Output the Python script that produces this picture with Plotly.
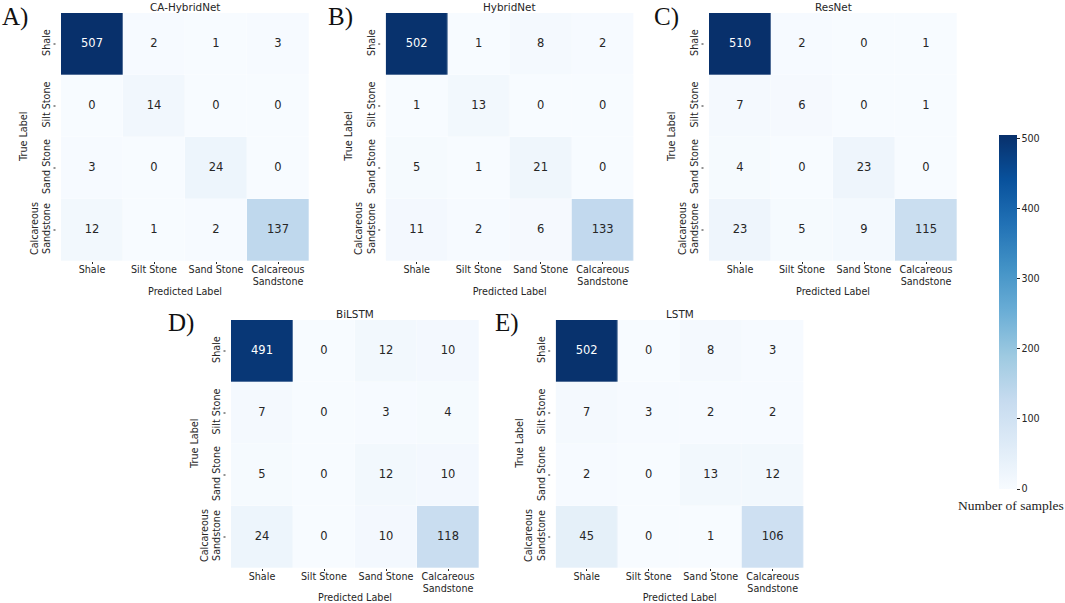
import plotly.graph_objects as go

W = 1065
H = 603

labels = ["Shale", "Silt Stone", "Sand Stone", "Calcareous<br>Sandstone"]

ca_hybridnet = [[507, 2, 1, 3], [0, 14, 0, 0], [3, 0, 24, 0], [12, 1, 2, 137]]
hybridnet = [[502, 1, 8, 2], [1, 13, 0, 0], [5, 1, 21, 0], [11, 2, 6, 133]]
resnet = [[510, 2, 0, 1], [7, 6, 0, 1], [4, 0, 23, 0], [23, 5, 9, 115]]
bilstm = [[491, 0, 12, 10], [7, 0, 3, 4], [5, 0, 12, 10], [24, 0, 10, 118]]
lstm = [[502, 0, 8, 3], [7, 3, 2, 2], [2, 0, 13, 12], [45, 0, 1, 106]]

names = ["CA-HybridNet", "HybridNet", "ResNet", "BiLSTM", "LSTM"]
matrices = [ca_hybridnet, hybridnet, resnet, bilstm, lstm]
letters = ["A)", "B)", "C)", "D)", "E)"]

# panel boxes in pixels: left, top
panel_pos = [(61, 13), (385.7, 13), (709, 13), (231, 320), (555.7, 320)]
panel_size = 248
letter_pos = [(2, 3), (328, 3), (654, 3), (168, 309), (495, 309)]

blues = ["#f7fbff", "#deebf7", "#c6dbef", "#9ecae1", "#6baed6",
         "#4292c6", "#2171b5", "#08519c", "#08306b"]
text_dark = "#262626"
sans = "DejaVu Sans"
serif = "Liberation Serif"

fig = go.Figure()
layout = {}
annotations = []
shapes = []

for i, (name, m) in enumerate(zip(names, matrices)):
    n = i + 1
    ax = "x" if i == 0 else f"x{n}"
    ay = "y" if i == 0 else f"y{n}"
    left, top = panel_pos[i]

    fig.add_trace(go.Heatmap(z=m, x=labels, y=labels, coloraxis="coloraxis",
                             xgap=0.3, ygap=0.3, xaxis=ax, yaxis=ay))

    xs, ys, txt, cols = [], [], [], []
    for r, row in enumerate(m):
        for c, v in enumerate(row):
            xs.append(labels[c])
            ys.append(labels[r])
            txt.append(str(v))
            cols.append("white" if v > 300 else text_dark)
    fig.add_trace(go.Scatter(x=xs, y=ys, text=txt, mode="text", showlegend=False,
                             textposition="middle center",
                             textfont=dict(family=sans, size=11.5, color=cols),
                             xaxis=ax, yaxis=ay))

    layout["xaxis" if i == 0 else f"xaxis{n}"] = dict(
        domain=[left / W, (left + panel_size) / W],
        anchor=ay, type="category", range=[-0.5, 3.5], side="bottom",
        automargin=False,
        showgrid=False, zeroline=False, showline=False,
        ticks="outside", ticklen=2, tickwidth=1, tickcolor=text_dark,
        ticklabelstandoff=-3,
        tickfont=dict(family=sans, size=9.6, color=text_dark), tickangle=0,
        title=dict(text="Predicted Label", standoff=2,
                   font=dict(family=sans, size=9.6, color=text_dark)),
    )
    layout["yaxis" if i == 0 else f"yaxis{n}"] = dict(
        domain=[1 - (top + panel_size) / H, 1 - top / H],
        anchor=ax, type="category", range=[3.5, -0.5],
        automargin=False,
        showgrid=False, zeroline=False, showline=False,
        ticks="", ticklabelstandoff=8,
        tickfont=dict(family=sans, size=9.6, color=text_dark), tickangle=-90,
    )

    # the y ticks sit detached from the heatmap in the original
    for lab in labels:
        shapes.append(dict(type="line", xref=f"{ax} domain", yref=ay,
                           x0=-7.5 / panel_size, x1=-5.5 / panel_size, y0=lab, y1=lab,
                           line=dict(color=text_dark, width=1)))

    annotations.append(dict(text="True Label", textangle=-90,
                            xref=f"{ax} domain", yref=f"{ay} domain",
                            x=0, y=0.5, xanchor="center", yanchor="middle",
                            xshift=-37, showarrow=False, borderpad=0,
                            font=dict(family=sans, size=9.6, color=text_dark)))
    annotations.append(dict(text=name, xref=f"{ax} domain", yref=f"{ay} domain",
                            x=0.5, y=1, xanchor="center", yanchor="bottom",
                            showarrow=False, yshift=-2,
                            font=dict(family=sans, size=10.4, color=text_dark)))
    lx, ly = letter_pos[i]
    annotations.append(dict(text=letters[i], xref="paper", yref="paper",
                            x=lx / W, y=1 - ly / H, xanchor="left", yanchor="top",
                            showarrow=False, borderpad=0, borderwidth=0,
                            font=dict(family=serif, size=25, color="#111111")))

annotations.append(dict(text="Number of samples", xref="paper", yref="paper",
                        x=1064.5 / W, y=1 - 505 / H, xanchor="right", yanchor="middle",
                        showarrow=False, borderpad=0,
                        font=dict(family=serif, size=13.5, color="#222222")))

fig.update_layout(
    width=W, height=H,
    margin=dict(l=0, r=0, t=0, b=0),
    paper_bgcolor="white", plot_bgcolor="white",
    showlegend=False,
    annotations=annotations,
    shapes=shapes,
    coloraxis=dict(
        cmin=0, cmax=505,
        colorscale=[[j / (len(blues) - 1), c] for j, c in enumerate(blues)],
        colorbar=dict(
            thicknessmode="pixels", thickness=18,
            lenmode="pixels", len=353.5,
            x=999 / W, xanchor="left", xpad=0,
            y=1 - 135 / H, yanchor="top", ypad=0,
            outlinewidth=0, borderwidth=0,
            tickvals=[0, 100, 200, 300, 400, 500],
            ticks="outside", ticklen=3, tickwidth=1, tickcolor=text_dark,
            tickfont=dict(family=sans, size=9.6, color=text_dark),
        ),
    ),
    **layout,
)

fig.write_html("out.html", config=dict(displayModeBar=False),
               post_script="document.body.style.margin='0';document.body.style.overflow='hidden';")
